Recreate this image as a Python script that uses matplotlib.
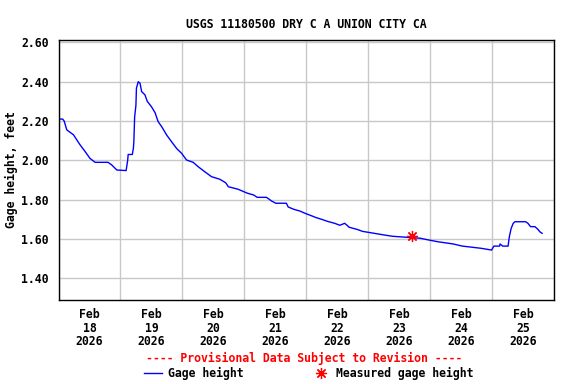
import matplotlib
matplotlib.use("Agg")
import matplotlib.pyplot as plt
import matplotlib.dates as mdates
import pandas as pd

# Gage height readings, hours after 2026-02-18 00:00
hours = [0, 1.6, 2.2, 3.2, 5.8, 8.3, 10.3, 12.2, 14.2, 19.2, 20.6, 22.6,
         26.2, 26.8, 27.0, 28.6, 29.0, 29.2, 29.5, 30.0, 30.2, 30.9, 31.6,
         32.2, 33.5, 34.4, 36.0, 37.4, 38.6, 40.0, 41.9, 43.8, 45.8, 47.7,
         49.6, 52.2, 54.1, 56.7, 59.3, 62.5, 64.8, 65.8, 69.6, 73.2, 75.6,
         77.0, 80.6, 82.6, 84.2, 88.3, 89.0, 91.2, 93.6, 95.5, 97.7, 99.6,
         102.0, 104.2, 107.0, 109.0, 110.9, 111.8, 112.6, 115.7, 117.8,
         121.9, 126.5, 129.4, 140.2, 143.5, 147.1, 152.9, 156.5, 163.7,
         167.8, 168.7, 170.9, 171.1, 172.1, 174.2, 174.7, 175.4, 176.2,
         176.9, 181.0, 181.9, 182.9, 184.6, 185.8, 186.5, 187.4]
gage = [2.21, 2.21, 2.20, 2.155, 2.13, 2.08, 2.045, 2.01, 1.99, 1.99, 1.977,
        1.951, 1.948, 2.00, 2.03, 2.03, 2.06, 2.095, 2.22, 2.28, 2.367, 2.40,
        2.392, 2.35, 2.333, 2.30, 2.273, 2.243, 2.197, 2.171, 2.129, 2.095,
        2.06, 2.036, 2.002, 1.99, 1.968, 1.942, 1.917, 1.904, 1.886, 1.866,
        1.853, 1.833, 1.824, 1.812, 1.812, 1.793, 1.782, 1.782, 1.763, 1.751,
        1.742, 1.731, 1.72, 1.71, 1.70, 1.69, 1.68, 1.67, 1.68, 1.67, 1.66,
        1.649, 1.639, 1.63, 1.62, 1.614, 1.604, 1.595, 1.586, 1.575, 1.564,
        1.553, 1.544, 1.564, 1.564, 1.575, 1.564, 1.564, 1.612, 1.654, 1.68,
        1.688, 1.688, 1.68, 1.663, 1.663, 1.649, 1.637, 1.629]

meas_hours = [137.0]
meas_gage = [1.615]

yticks = [1.40, 1.60, 1.80, 2.00, 2.20, 2.40, 2.60]

t0 = pd.Timestamp("2026-02-18")
times = t0 + pd.to_timedelta(hours, unit="h")
meas_times = t0 + pd.to_timedelta(meas_hours, unit="h")

fs = 8.3
plt.rcParams["font.family"] = ["DejaVu Sans Mono"]
plt.rcParams["font.weight"] = "bold"
plt.rcParams["axes.titleweight"] = "bold"
plt.rcParams["axes.labelweight"] = "bold"

fig = plt.figure(figsize=(5.76, 3.84), dpi=100)
ax = fig.add_axes([58.5 / 576, 1 - 300 / 384, (554 - 58.5) / 576, (300 - 40) / 384])

line, = ax.plot(times, gage, color="#0000ff", lw=1.0, label="Gage height")
star, = ax.plot(meas_times, meas_gage, ls="none", marker=(8, 2, 0), ms=8,
                mew=0.9, color="red", label="Measured gage height")

ax.set_xlim(t0, t0 + pd.Timedelta(days=8))
ax.set_ylim(1.29, 2.612)

ax.xaxis.set_major_locator(mdates.DayLocator())
ax.xaxis.set_major_formatter(plt.NullFormatter())
ax.xaxis.set_minor_locator(mdates.HourLocator(byhour=12))
ax.xaxis.set_minor_formatter(mdates.DateFormatter("%b\n%d\n%Y"))
ax.tick_params(axis="x", which="both", length=0, pad=6, labelsize=fs)
for lbl in ax.get_xticklabels(minor=True):
    lbl.set_linespacing(1.05)

ax.set_yticks(yticks)
ax.set_yticklabels([f"{v:.2f}" for v in yticks])
ax.tick_params(axis="y", length=0, pad=7, labelsize=fs)

ax.grid(True, which="major", color="#c8c8c8", lw=1.0)
ax.set_axisbelow(True)
for s in ax.spines.values():
    s.set_linewidth(1.0)
    s.set_color("black")

ax.set_ylabel("Gage height, feet", fontsize=fs, fontweight="bold", labelpad=2)
ax.set_title("USGS 11180500 DRY C A UNION CITY CA", fontsize=fs,
             fontweight="bold", pad=9)

fig.text(304 / 576, 1 - 358 / 384, "---- Provisional Data Subject to Revision ----",
         color="red", fontsize=fs, fontweight="bold", ha="center", va="center")

fig.legend(handles=[line, star], loc="center", ncol=2,
           bbox_to_anchor=(309 / 576, 1 - 373 / 384), frameon=False,
           prop={"size": fs, "weight": "bold"}, handlelength=1.5,
           handletextpad=0.55, columnspacing=6.0, borderpad=0, borderaxespad=0)

fig.savefig("out.png", dpi=100)
